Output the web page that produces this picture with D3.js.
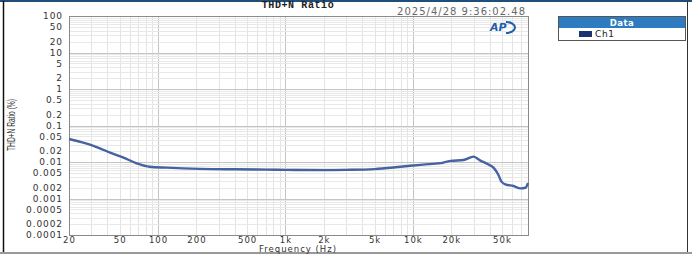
<!DOCTYPE html>
<html><head><meta charset="utf-8">
<script src="https://cdn.jsdelivr.net/npm/d3@7"></script>
<style>body{margin:0;background:#fff}svg{display:block}</style>
</head><body>
<svg id="c" width="692" height="256"></svg>
<script>
const freqs = [20, 25, 30, 35, 42, 53, 68, 86, 117, 213, 400, 700, 1000, 2000, 3000, 5000, 8000, 12000, 16400, 19700, 24900, 29900, 33900, 38500, 42900, 46900, 49500, 53200, 61500, 69800, 76400, 80000];
const ch1 = [0.0427, 0.035, 0.029, 0.0237, 0.018, 0.0134, 0.0092, 0.0074, 0.0070, 0.0065, 0.0063, 0.0062, 0.0061, 0.0060, 0.0061, 0.0064, 0.0074, 0.0085, 0.0093, 0.0107, 0.0113, 0.014, 0.0109, 0.0088, 0.0070, 0.0044, 0.0029, 0.00245, 0.0022, 0.0019, 0.00197, 0.00266];
const yTickVals = [100, 50, 20, 10, 5, 2, 1, 0.5, 0.2, 0.1, 0.05, 0.02, 0.01, 0.005, 0.002, 0.001, 0.0005, 0.0002, 0.0001];
const yTickLabels = ["100","50","20","10","5","2","1","0.5","0.2","0.1","0.05","0.02","0.01","0.005","0.002","0.001","0.0005","0.0002","0.0001"];
const xTickVals = [20, 50, 100, 200, 500, 1000, 2000, 5000, 10000, 20000, 50000];
const xTickLabels = ["20","50","100","200","500","1k","2k","5k","10k","20k","50k"];
const seriesNames = ["Ch1"];
const titleText = "THD+N Ratio";
const stampText = "2025/4/28 9:36:02.48";

const svg = d3.select("#c");
const L = 69, R = 528, T = 16, B = 235;
const x = d3.scaleLog().domain([20, 80000]).range([L, R]);
const y = d3.scaleLog().domain([0.0001, 100]).range([B, T]);

// outer frame
svg.append("rect").attr("x",0).attr("y",0).attr("width",692).attr("height",2).attr("fill","#1f4e79");
svg.append("line").attr("x1",3.5).attr("x2",3.5).attr("y1",1).attr("y2",252).attr("stroke","#111").attr("stroke-width",1.5);
svg.append("line").attr("x1",687.5).attr("x2",687.5).attr("y1",1).attr("y2",252).attr("stroke","#333").attr("stroke-width",1);
svg.append("line").attr("x1",0).attr("x2",692).attr("y1",253).attr("y2",253).attr("stroke","#999").attr("stroke-width",2);

// grid
const minorX = [];
for (let d = 10; d <= 100000; d *= 10) for (let m = 1; m < 10; m++) { const v = d*m; if (v > 20 && v < 80000) minorX.push(v); }
const minorY = [];
for (let d = 0.0001; d < 100; d *= 10) for (let m = 1; m < 10; m++) { const v = d*m; if (v > 0.0001 && v < 100) minorY.push(v); }
const isMajor = v => Math.abs(Math.log10(v) - Math.round(Math.log10(v))) < 1e-6;
const g = svg.append("g");
g.selectAll("line.gx").data(minorX).join("line")
  .attr("x1", d => Math.round(x(d))+0.5).attr("x2", d => Math.round(x(d))+0.5).attr("y1", T).attr("y2", B)
  .attr("stroke", d => isMajor(d) ? "#c4c4c4" : "#e4e4e4");
g.selectAll("line.gy").data(minorY).join("line")
  .attr("y1", d => Math.round(y(d))+0.5).attr("y2", d => Math.round(y(d))+0.5).attr("x1", L).attr("x2", R)
  .attr("stroke", d => isMajor(d) ? "#c4c4c4" : "#e8e8e8");
svg.append("rect").attr("x",L+0.5).attr("y",T+0.5).attr("width",R-L).attr("height",B-T)
  .attr("fill","none").attr("stroke","#8a8a8a");

// axes via d3 axis
const yAxis = d3.axisLeft(y).tickValues(yTickVals).tickFormat((d,i) => yTickLabels[i]).tickSize(0).tickPadding(6);
const ya = svg.append("g").attr("transform", `translate(${L},0)`).call(yAxis);
ya.select(".domain").remove();
ya.selectAll("text").attr("font-family","DejaVu Sans").attr("font-size","9px").attr("letter-spacing","0.9px").attr("fill","#333");

const xAxis = d3.axisBottom(x).tickValues(xTickVals).tickFormat((d,i) => xTickLabels[i]).tickSize(0).tickPadding(0);
const xa = svg.append("g").attr("transform", `translate(0,${B})`).call(xAxis);
xa.select(".domain").remove();
xa.selectAll("text").attr("font-family","DejaVu Sans").attr("font-size","8.5px").attr("letter-spacing","1px").attr("fill","#333")
  .attr("dy", null).attr("y", 7.5);

// titles
svg.append("text").attr("x",298).attr("y",251.5).attr("text-anchor","middle")
  .attr("font-family","DejaVu Sans").attr("font-size","8.5px").attr("letter-spacing","1px").attr("fill","#333").text("Frequency (Hz)");
svg.append("text").attr("transform","translate(15,125) rotate(-90)").attr("text-anchor","middle")
  .attr("font-family","Liberation Sans Narrow, Liberation Sans").attr("font-size","10px")
  .attr("textLength",52).attr("lengthAdjust","spacingAndGlyphs").attr("fill","#333").text("THD+N Ratio (%)");
svg.append("text").attr("x",298).attr("y",8).attr("text-anchor","middle")
  .attr("font-family","Liberation Mono").attr("font-weight","bold").attr("font-size","10px").attr("letter-spacing","0.6px").attr("fill","#222").text(titleText);
svg.append("text").attr("x",526).attr("y",15).attr("text-anchor","end")
  .attr("font-family","DejaVu Sans").attr("font-size","10px").attr("letter-spacing","1px").attr("fill","#666").text(stampText);

// AP logo
svg.append("text").attr("x",490).attr("y",31).attr("font-family","DejaVu Sans").attr("font-weight","bold").attr("font-style","italic")
  .attr("font-size","11px").attr("fill","#1f5fa8").text("AP");
svg.append("path").attr("d","M506,22 A9,5.5 0 0 1 506,33").attr("fill","none").attr("stroke","#1f5fa8").attr("stroke-width",2);

// data line
const data = freqs.map((f,i) => [f, ch1[i]]);
svg.append("path").datum(data)
  .attr("fill","none").attr("stroke","#4563a0").attr("stroke-width",2.4).attr("stroke-linejoin","round")
  .attr("d", d3.line().x(d => x(d[0])).y(d => y(d[1])).curve(d3.curveMonotoneX));

// legend
const lg = svg.append("g");
lg.append("rect").attr("x",558.5).attr("y",16.5).attr("width",127).attr("height",24).attr("fill","#fff").attr("stroke","#555");
lg.append("rect").attr("x",559).attr("y",17).attr("width",126).attr("height",11).attr("fill","#2e7bbf");
lg.append("text").attr("x",622).attr("y",26).attr("text-anchor","middle").attr("font-family","DejaVu Sans").attr("font-weight","bold")
  .attr("font-size","8.5px").attr("letter-spacing","0.5px").attr("fill","#fff").text("Data");
lg.selectAll("rect.sw").data(seriesNames).join("rect").attr("x",579).attr("y",(d,i)=>31+i*12).attr("width",13).attr("height",6).attr("fill","#1a3372");
lg.selectAll("text.nm").data(seriesNames).join("text").attr("x",595).attr("y",(d,i)=>37+i*12)
  .attr("font-family","DejaVu Sans").attr("font-size","9px").attr("letter-spacing","0.6px").attr("fill","#222").text(d=>d);
</script>
</body></html>
